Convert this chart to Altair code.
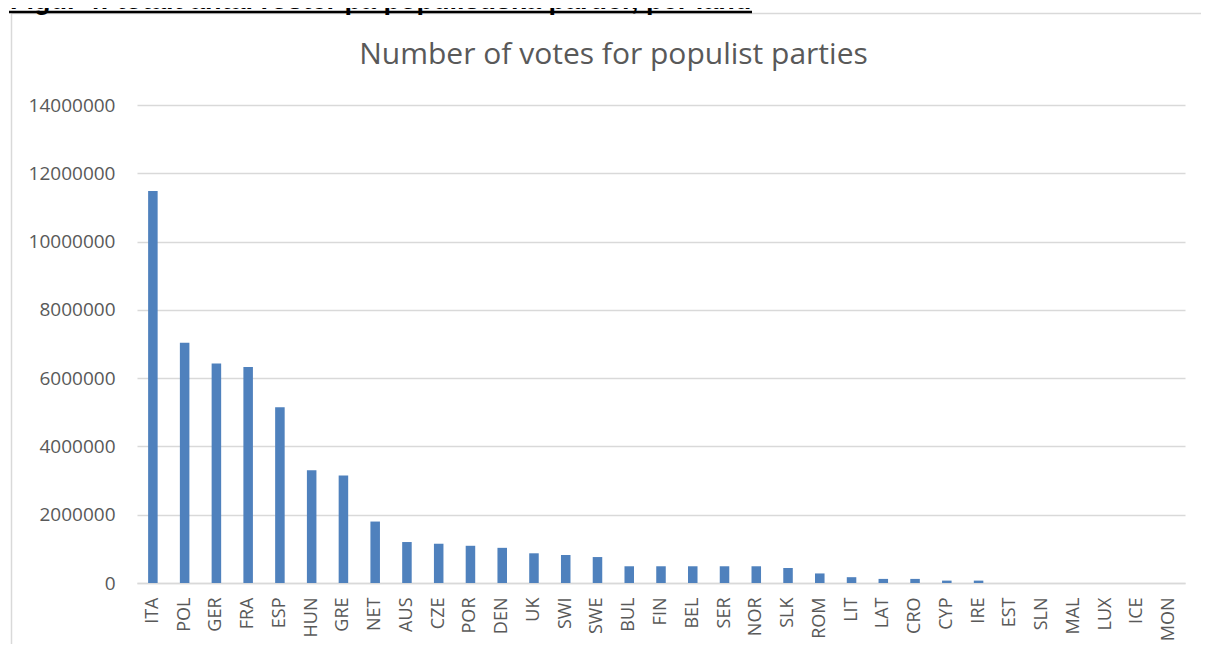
import altair as alt
import pandas as pd

countries = ["ITA", "POL", "GER", "FRA", "ESP", "HUN", "GRE", "NET", "AUS", "CZE",
             "POR", "DEN", "UK", "SWI", "SWE", "BUL", "FIN", "BEL", "SER", "NOR",
             "SLK", "ROM", "LIT", "LAT", "CRO", "CYP", "IRE", "EST", "SLN", "MAL",
             "LUX", "ICE", "MON"]
votes = [11480000, 7040000, 6430000, 6330000, 5150000, 3300000, 3150000, 1800000,
         1200000, 1150000, 1090000, 1030000, 870000, 820000, 760000, 490000,
         490000, 490000, 490000, 490000, 440000, 280000, 170000, 120000, 120000,
         70000, 70000, 0, 0, 0, 0, 0, 0]
y_ticks = [0, 2000000, 4000000, 6000000, 8000000, 10000000, 12000000, 14000000]
chart_title = ["Number of votes for populist parties"]
caption = ["Figur 4: totalt antal röster på populistiska partier, per land"]

GRAY = "#595959"
GRID = "#D9D9D9"
FONT = "Open Sans"
W, H = 1048, 478

df = pd.DataFrame({"country": countries, "votes": votes})
one = pd.DataFrame({"k": [0]})

bars = alt.Chart(df).mark_bar(color="#4F81BD").encode(
    x=alt.X("country:N", sort=countries, title=None,
            scale=alt.Scale(paddingInner=0.7, paddingOuter=0.35),
            axis=alt.Axis(labelAngle=-90, ticks=False, tickSize=0, labelPadding=14,
                          domainColor=GRID, domainWidth=1.5, labelColor=GRAY,
                          labelFont=FONT, labelFontSize=18, grid=False)),
    y=alt.Y("votes:Q", title=None, scale=alt.Scale(domain=[0, 14000000], nice=False),
            axis=alt.Axis(values=y_ticks, format="d", domain=False, ticks=False,
                          tickSize=0, labelPadding=22, gridColor=GRID, gridWidth=1.5,
                          labelColor=GRAY, labelFont=FONT, labelFontSize=19)),
)

title = alt.Chart(pd.DataFrame({"t": chart_title})).mark_text(
    font=FONT, fontSize=30, color=GRAY, align="center", baseline="alphabetic"
).encode(text="t:N", x=alt.value(476.5), y=alt.value(-41))

cap = alt.Chart(pd.DataFrame({"t": caption})).mark_text(
    font="Liberation Sans", fontWeight="bold", fontSize=27, color="black",
    align="left", baseline="alphabetic"
).encode(text="t:N", x=alt.value(-127), y=alt.value(-96))

underline = alt.Chart(one).mark_rule(color="black", strokeWidth=2.5).encode(
    x=alt.value(-128), x2=alt.value(615), y=alt.value(-93))

frame_top = alt.Chart(one).mark_rule(color=GRID, strokeWidth=1.5).encode(
    x=alt.value(-125.5), x2=alt.value(1200), y=alt.value(-91.5))
frame_left = alt.Chart(one).mark_rule(color=GRID, strokeWidth=1.5).encode(
    x=alt.value(-125.5), y=alt.value(-91.5), y2=alt.value(700))

chart = alt.layer(frame_top, frame_left, bars, title, cap, underline).properties(
    width=W, height=H,
    autosize=alt.AutoSizeParams(type="none"),
    padding={"left": 129, "top": 97, "right": 16, "bottom": 61},
    background="white",
).configure_view(strokeWidth=0)

chart.save("out.html", embed_options={"renderer": "svg", "actions": False})
